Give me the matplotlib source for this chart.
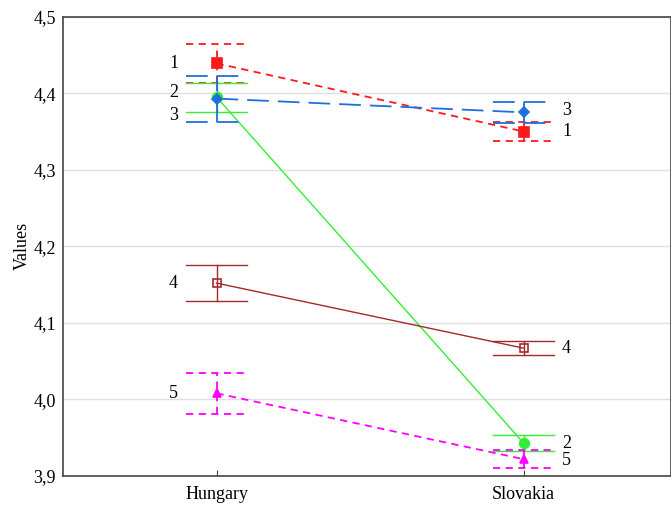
import matplotlib.pyplot as plt
from matplotlib.ticker import FuncFormatter

plt.rcParams['font.family'] = ['Liberation Serif', 'DejaVu Serif']

countries = ['Hungary', 'Slovakia']
labels = ['1', '2', '3', '4', '5']
means = [
    [4.439, 4.350],
    [4.395, 3.943],
    [4.393, 4.375],
    [4.152, 4.067],
    [4.008, 3.922],
]
errs = [
    [0.025, 0.012],
    [0.019, 0.010],
    [0.030, 0.014],
    [0.023, 0.0095],
    [0.027, 0.0115],
]

colors = ['#ff1a1a', '#33ee33', '#1f6fdc', '#a52a2a', '#ff00ff']
styles = [(0, (4, 3)), '-', (0, (12, 5)), '-', (0, (4, 3))]
markers = ['s', 'o', 'D', 's', '^']
mfaces = ['#ff1a1a', '#33ee33', '#1f6fdc', 'none', '#ff00ff']
msizes = [7, 7, 5, 6, 6]

fig = plt.figure(figsize=(6.71, 5.05), dpi=100)
ax = fig.add_axes([0.0939, 0.0574, 0.9061, 0.9096])

x = [0, 1]
cap = 0.1
for i in range(len(labels)):
    c = colors[i]
    ls = styles[i]
    lw = 1.0 if ls == '-' else 1.3
    ax.plot(x, means[i], color=c, linestyle=ls, linewidth=lw, zorder=3)
    for j in range(2):
        lo = means[i][j] - errs[i][j]
        hi = means[i][j] + errs[i][j]
        ax.plot([x[j], x[j]], [lo, hi], color=c, linestyle=ls, linewidth=lw, zorder=3)
        ax.plot([x[j] - cap, x[j] + cap], [lo, lo], color=c, linestyle=ls, linewidth=lw, zorder=3)
        ax.plot([x[j] - cap, x[j] + cap], [hi, hi], color=c, linestyle=ls, linewidth=lw, zorder=3)
    ax.plot(x, means[i], linestyle='none', marker=markers[i], markersize=msizes[i],
            markerfacecolor=mfaces[i], markeredgecolor=c, markeredgewidth=1.2, zorder=4)

# series number labels
left_pos = [4.439, 4.401, 4.371, 4.152, 4.008]
right_pos = [4.350, 3.943, 4.377, 4.067, 3.920]
for i in range(len(labels)):
    ax.text(-0.14, left_pos[i], labels[i], fontsize=13, ha='center', va='center')
    ax.text(1.14, right_pos[i], labels[i], fontsize=13, ha='center', va='center')

ax.set_xlim(-0.5, 1.48)
ax.set_ylim(3.9, 4.5)
ax.set_xticks(x)
ax.set_xticklabels(countries, fontsize=13)
ax.set_yticks([3.9, 4.0, 4.1, 4.2, 4.3, 4.4, 4.5])
ax.yaxis.set_major_formatter(FuncFormatter(lambda v, p: ('%.1f' % v).replace('.', ',')))
ax.tick_params(axis='y', length=0, labelsize=13, pad=5)
ax.tick_params(axis='x', direction='in', length=4, color='#444444', pad=7)
ax.set_ylabel('Values', fontsize=13, labelpad=2)
ax.grid(axis='y', color='#e0e0e0', linewidth=1)
ax.set_axisbelow(True)
for s in ax.spines.values():
    s.set_color('#444444')
    s.set_linewidth(1.2)

fig.savefig('out.png', dpi=100)
